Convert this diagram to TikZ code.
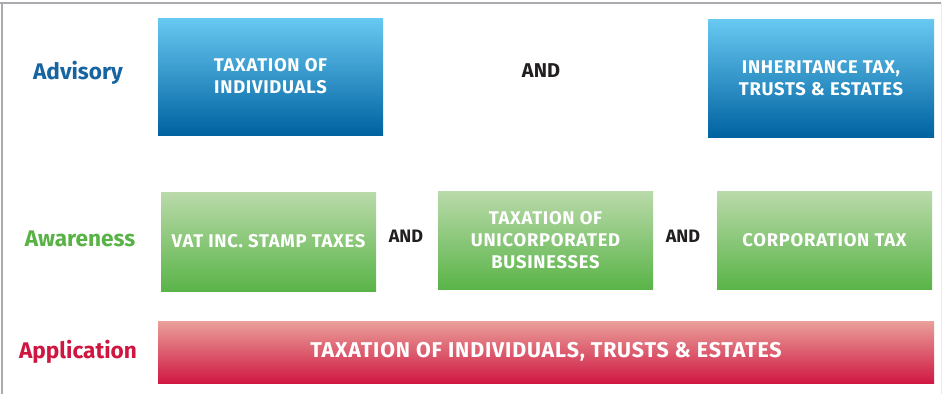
\documentclass[tikz,border=0pt]{standalone}
\usepackage{fontspec}
\setmainfont{Fira Sans}
\newfontfamily\boxfont[LetterSpace=4]{Fira Sans}
\usetikzlibrary{positioning}

\definecolor{advblue}{RGB}{22,100,160}
\definecolor{blutop}{RGB}{104,201,242}
\definecolor{blubot}{RGB}{0,98,160}
\definecolor{awgreen}{RGB}{88,178,70}
\definecolor{grntop}{RGB}{186,218,170}
\definecolor{grnbot}{RGB}{90,180,72}
\definecolor{appred}{RGB}{206,22,64}
\definecolor{redtop}{RGB}{233,160,154}
\definecolor{redbot}{RGB}{208,24,66}
\definecolor{framegray}{RGB}{170,170,175}
\definecolor{andblack}{RGB}{35,31,32}

\tikzset{
  taxbox/.style={inner sep=0pt, outer sep=0pt, anchor=north west, align=center,
    text=white, font=\boxfont\bfseries\fontsize{18.4}{22}\selectfont},
  bluebox/.style={taxbox, top color=blutop, bottom color=blubot},
  greenbox/.style={taxbox, top color=grntop, bottom color=grnbot},
  redbox/.style={taxbox, top color=redtop, bottom color=redbot,
    font=\boxfont\bfseries\fontsize{21.4}{25}\selectfont},
  level/.style={font=\bfseries\fontsize{22.6}{26}\selectfont},
  andlabel/.style={text=andblack, font=\bfseries\fontsize{18}{21}\selectfont}
}

\begin{document}
\begin{tikzpicture}[x=1pt, y=-1pt]
\useasboundingbox (0,0) rectangle (942,394);
% frame
\draw[framegray, line width=1.5pt] (0,3) -- (941,3);
\draw[framegray, line width=1.5pt] (2,3) -- (2,394);
\draw[black!8, line width=0.8pt] (941,3) -- (941,394);

% advisory row
\node[level, text=advblue] (advisory) at (78,73) {Advisory};
\node[bluebox, minimum width=225pt, minimum height=117pt] (indiv) at (158,18) {TAXATION OF\\INDIVIDUALS};
\node[andlabel, font=\bfseries\fontsize{20}{24}\selectfont] (and1) at (541,71) {AND};
\node[bluebox, minimum width=226pt, minimum height=118pt] (iht) at (708,19) {INHERITANCE TAX,\\TRUSTS \& ESTATES};

% awareness row
\node[level, text=awgreen] (awareness) at (80,239) {Awareness};
\node[greenbox, minimum width=215pt, minimum height=99pt] (vat) at (161,192) {VAT INC. STAMP TAXES};
\node[andlabel] (and2) at (406,236) {AND};
\node[greenbox, minimum width=215pt, minimum height=98pt] (unincorp) at (438,191) {TAXATION OF\\UNICORPORATED\\BUSINESSES};
\node[andlabel] (and3) at (683,236) {AND};
\node[greenbox, minimum width=215pt, minimum height=98pt] (corp) at (717,191) {CORPORATION TAX};

% application row
\node[level, text=appred] (application) at (78,352) {Application};
\node[redbox, minimum width=776pt, minimum height=62pt] (trusts) at (158,321) {TAXATION OF INDIVIDUALS, TRUSTS \& ESTATES};
\end{tikzpicture}
\end{document}
